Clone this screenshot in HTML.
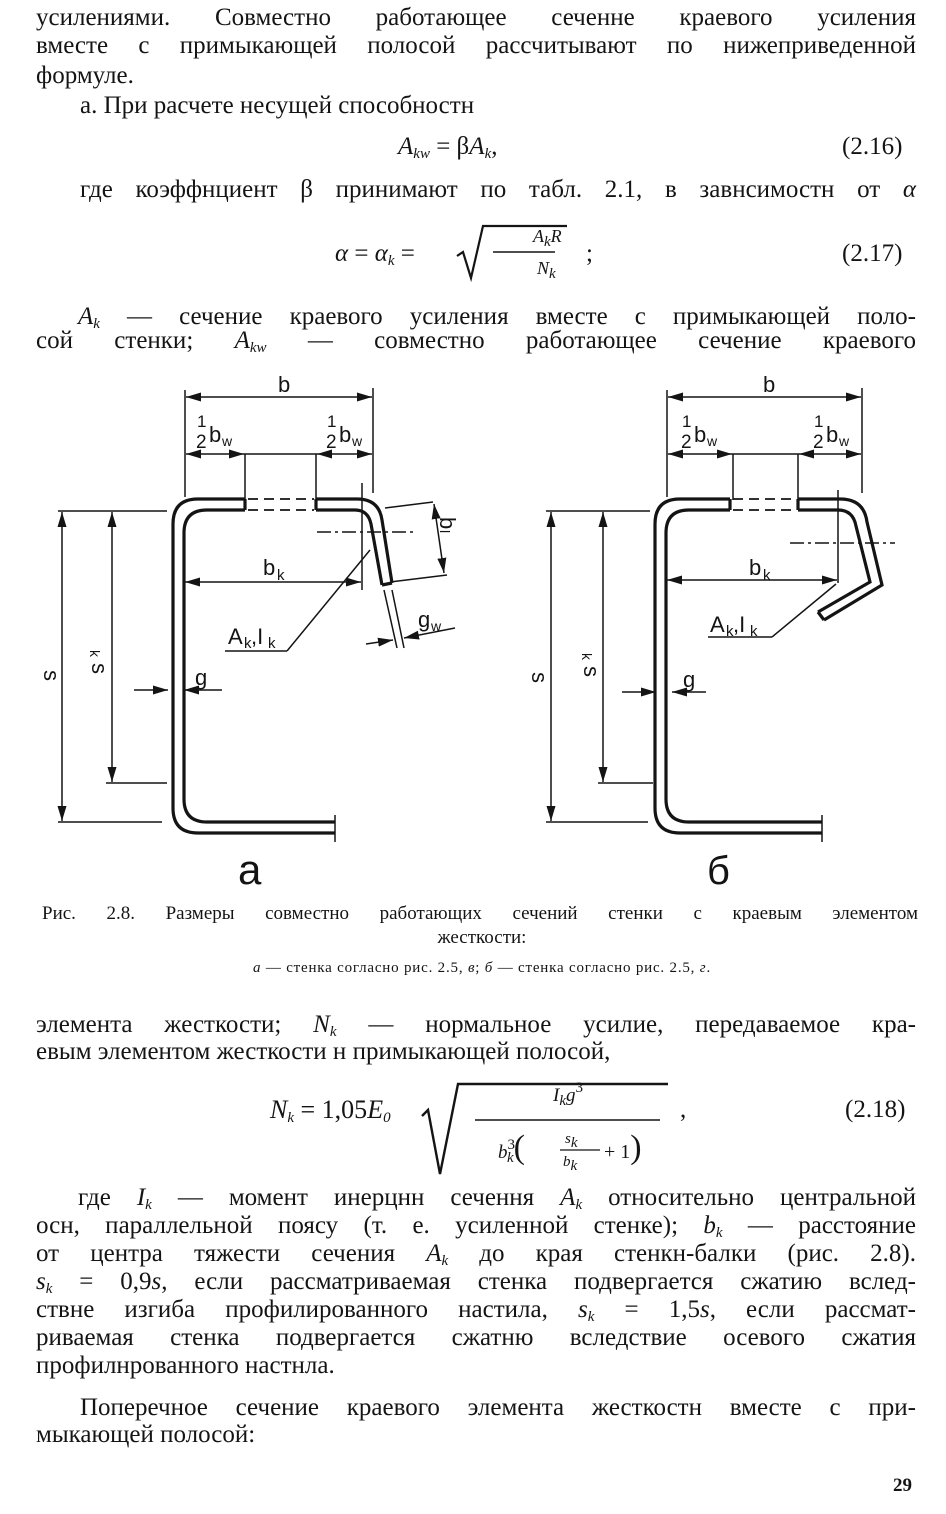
<!DOCTYPE html>
<html><head><meta charset="utf-8"><style>
body{margin:0;background:#fff;}
#p{position:relative;width:946px;height:1514px;overflow:hidden;font-family:"Liberation Serif","DejaVu Serif",serif;font-size:25px;color:#141414;}
.l{position:absolute;white-space:nowrap;line-height:28px;}
.j{text-align:justify;text-align-last:justify;white-space:normal;}
i{font-style:italic;}
sub{font-size:15px;vertical-align:-4px;line-height:0;font-style:italic;}
sup{font-size:15px;vertical-align:9px;line-height:0;}
</style></head><body><div id="p">

<div class="l j" style="top:4px;left:36px;width:880px;">усилениями. Совместно работающее сеченне краевого усиления</div>
<div class="l j" style="top:32px;left:36px;width:880px;">вместе с примыкающей полосой рассчитывают по нижеприведенной</div>
<div class="l" style="top:62px;left:36px;">формуле.</div>
<div class="l" style="top:92px;left:80px;">а. При расчете несущей способностн</div>
<div class="l" style="top:133px;left:398px;"><i>A</i><sub>kw</sub> = β<i>A</i><sub>k</sub>,</div>
<div class="l" style="top:133px;left:842px;">(2.16)</div>
<div class="l j" style="top:176px;left:80px;width:836px;">где коэффнциент β принимают по табл. 2.1, в завнсимостн от <i>α</i></div>
<div class="l" style="top:240px;left:335px;"><i>α</i> = <i>α</i><sub>k</sub> =</div>
<svg style="position:absolute;left:455px;top:222px" width="160" height="60"><path d="M2 34 L8 30 L16 56 L28 4 L112 4" fill="none" stroke="#141414" stroke-width="2.2"/><line x1="38" y1="30" x2="100" y2="30" stroke="#141414" stroke-width="1.5"/></svg>
<div class="l" style="top:222px;left:533px;font-size:18px;"><i>A<sub>k</sub>R</i></div>
<div class="l" style="top:254px;left:537px;font-size:18px;"><i>N<sub>k</sub></i></div>
<div class="l" style="top:240px;left:586px;">;</div>
<div class="l" style="top:240px;left:842px;">(2.17)</div>
<div class="l j" style="top:303px;left:78px;width:838px;"><i>A<sub>k</sub></i> — сечение краевого усиления вместе с примыкающей поло-</div>
<div class="l j" style="top:327px;left:36px;width:880px;">сой стенки; <i>A<sub>kw</sub></i> — совместно работающее сечение краевого</div>

<svg style="position:absolute;left:0;top:360px" width="946" height="530" viewBox="0 360 946 530" font-family="Liberation Sans, DejaVu Sans, sans-serif" fill="none" stroke="#141414">
<defs><marker id="a" markerWidth="10" markerHeight="6" refX="10" refY="3" orient="auto-start-reverse"><path d="M0 0L10 3L0 6z" fill="#141414" stroke="none"/></marker></defs>
<g stroke-width="1.5">
<line x1="185" y1="390" x2="185" y2="497"/><line x1="373" y1="388" x2="373" y2="493"/>
<line x1="186" y1="397" x2="372" y2="397" marker-start="url(#a)" marker-end="url(#a)"/>
<line x1="186" y1="454" x2="244" y2="454" marker-start="url(#a)" marker-end="url(#a)"/>
<line x1="244" y1="454" x2="317" y2="454"/>
<line x1="317" y1="454" x2="372" y2="454" marker-start="url(#a)" marker-end="url(#a)"/>
<line x1="245" y1="454" x2="245" y2="500"/><line x1="316" y1="454" x2="316" y2="500"/>
<line x1="62" y1="512" x2="62" y2="821" marker-start="url(#a)" marker-end="url(#a)"/>
<line x1="58" y1="511" x2="167" y2="511"/><line x1="58" y1="822" x2="162" y2="822"/>
<line x1="112" y1="512" x2="112" y2="782" marker-start="url(#a)" marker-end="url(#a)"/>
<line x1="106" y1="783" x2="167" y2="783"/>
<line x1="185" y1="582" x2="361" y2="582" marker-start="url(#a)" marker-end="url(#a)"/>
<line x1="362" y1="483" x2="362" y2="590"/>
<line x1="317" y1="532" x2="415" y2="532" stroke-dasharray="14 4 3 4"/>
<line x1="370" y1="550" x2="287" y2="651"/><line x1="287" y1="651" x2="225" y2="651"/>
<line x1="385" y1="508" x2="433" y2="502"/><line x1="390" y1="582" x2="447" y2="575"/>
<line x1="434" y1="504" x2="444" y2="573" marker-start="url(#a)" marker-end="url(#a)"/>
<line x1="384" y1="590" x2="397" y2="648"/><line x1="392" y1="590" x2="404" y2="648"/>
<line x1="366" y1="644" x2="393" y2="640" marker-end="url(#a)"/><line x1="455" y1="628" x2="404" y2="638" marker-end="url(#a)"/>
<line x1="134" y1="690" x2="168" y2="690" marker-end="url(#a)"/><line x1="222" y1="690" x2="184" y2="690" marker-end="url(#a)"/>
<line x1="335" y1="815" x2="335" y2="842"/>
<line x1="667" y1="390" x2="667" y2="497"/><line x1="862" y1="388" x2="862" y2="493"/>
<line x1="668" y1="397" x2="861" y2="397" marker-start="url(#a)" marker-end="url(#a)"/>
<line x1="668" y1="454" x2="732" y2="454" marker-start="url(#a)" marker-end="url(#a)"/>
<line x1="732" y1="454" x2="799" y2="454"/>
<line x1="799" y1="454" x2="861" y2="454" marker-start="url(#a)" marker-end="url(#a)"/>
<line x1="733" y1="454" x2="733" y2="500"/><line x1="798" y1="454" x2="798" y2="500"/>
<line x1="551" y1="512" x2="551" y2="821" marker-start="url(#a)" marker-end="url(#a)"/>
<line x1="546" y1="511" x2="650" y2="511"/><line x1="546" y1="822" x2="648" y2="822"/>
<line x1="603" y1="512" x2="603" y2="782" marker-start="url(#a)" marker-end="url(#a)"/>
<line x1="598" y1="783" x2="653" y2="783"/>
<line x1="667" y1="580" x2="837" y2="580" marker-start="url(#a)" marker-end="url(#a)"/>
<line x1="838" y1="490" x2="838" y2="583"/>
<line x1="790" y1="543" x2="895" y2="543" stroke-dasharray="14 4 3 4"/>
<line x1="836" y1="584" x2="772" y2="637"/><line x1="772" y1="637" x2="708" y2="637"/>
<line x1="622" y1="692" x2="656" y2="692" marker-end="url(#a)"/><line x1="706" y1="692" x2="672" y2="692" marker-end="url(#a)"/>
<line x1="822" y1="815" x2="822" y2="842"/>
</g>
<g stroke-width="3.2">
<path d="M245 499 L198 499 Q173 499 173 524 L173 808 Q173 833 198 833 L335 833"/>
<path d="M245 510 L207 510 Q184 510 184 533 L184 799 Q184 822 207 822 L335 822"/>
<path d="M316 499 L357 499 Q379 499 382 520 L392 583"/>
<path d="M316 510 L355 510 Q368 510 371 524 L382 585"/>
<line x1="245" y1="499" x2="245" y2="510"/><line x1="316" y1="499" x2="316" y2="510"/><line x1="382" y1="585" x2="392" y2="583"/>
<path d="M730 499 L680 499 Q655 499 655 524 L655 808 Q655 833 680 833 L822 833"/>
<path d="M730 510 L689 510 Q666 510 666 533 L666 799 Q666 822 689 822 L822 822"/>
<path d="M798 499 L840 499 Q864 499 867 522 L882 585 L824 620"/>
<path d="M798 510 L838 510 Q853 510 856 526 L870 582 L818 612"/>
<line x1="730" y1="499" x2="730" y2="510"/><line x1="798" y1="499" x2="798" y2="510"/><line x1="818" y1="612" x2="824" y2="620"/>
</g>
<g stroke-width="1.8" stroke-dasharray="10 6"><line x1="248" y1="499" x2="314" y2="499"/><line x1="248" y1="510" x2="314" y2="510"/><line x1="733" y1="499" x2="796" y2="499"/><line x1="733" y1="510" x2="796" y2="510"/></g>
<g fill="#141414" stroke="none" font-size="22">
<text x="278" y="392">b</text><text x="763" y="392">b</text>
<text x="197" y="427" font-size="17">1</text><text x="196" y="448" font-size="19">2</text><text x="209" y="442">b</text><text x="222" y="446" font-size="14">w</text>
<text x="327" y="427" font-size="17">1</text><text x="326" y="448" font-size="19">2</text><text x="339" y="442">b</text><text x="352" y="446" font-size="14">w</text>
<text x="682" y="427" font-size="17">1</text><text x="681" y="448" font-size="19">2</text><text x="694" y="442">b</text><text x="707" y="446" font-size="14">w</text>
<text x="814" y="427" font-size="17">1</text><text x="813" y="448" font-size="19">2</text><text x="826" y="442">b</text><text x="839" y="446" font-size="14">w</text>
<text x="263" y="575">b</text><text x="277" y="580" font-size="15">k</text>
<text x="749" y="575">b</text><text x="763" y="580" font-size="15">k</text>
<text x="228" y="644">A</text><text x="244" y="648" font-size="15">k</text><text x="251" y="644">,I</text><text x="268" y="648" font-size="15">k</text>
<text x="710" y="632">A</text><text x="726" y="636" font-size="15">k</text><text x="733" y="632">,I</text><text x="750" y="636" font-size="15">k</text>
<text x="195" y="685">g</text><text x="683" y="687">g</text>
<text x="418" y="627">g</text><text x="431" y="631" font-size="14">w</text>
<text transform="translate(44,670) rotate(90)">s</text>
<text transform="translate(92,663) rotate(90)">s</text><text transform="translate(90,650) rotate(90)" font-size="14">k</text>
<text transform="translate(532,672) rotate(90)">s</text>
<text transform="translate(584,666) rotate(90)">s</text><text transform="translate(582,653) rotate(90)" font-size="14">k</text>
<text transform="translate(440,517) rotate(90)">b</text><text transform="translate(440,530) rotate(90)" font-size="14">l</text>
<text x="238" y="884" font-size="42">a</text><text x="707" y="884" font-size="40">б</text>
</g>
</svg>

<div class="l j" style="top:900px;left:42px;font-size:19px;width:876px;">Рис. 2.8. Размеры совместно работающих сечений стенки с краевым элементом</div>
<div class="l" style="top:924px;left:42px;font-size:19px;width:880px;text-align:center;">жесткости:</div>
<div class="l" style="top:954px;left:42px;font-size:15px;width:880px;text-align:center;letter-spacing:0.8px;"><i>а</i> — стенка согласно рис. 2.5, <i>в</i>; <i>б</i> — стенка согласно рис. 2.5, <i>г</i>.</div>

<div class="l j" style="top:1011px;left:36px;width:880px;">элемента жесткости; <i>N<sub>k</sub></i> — нормальное усилие, передаваемое кра-</div>
<div class="l" style="top:1038px;left:36px;">евым элементом жесткости н примыкающей полосой,</div>
<div class="l" style="top:1096px;left:270px;font-size:26px;"><i>N<sub>k</sub></i> = 1,05<i>E</i><sub>0</sub></div>
<svg style="position:absolute;left:420px;top:1080px" width="260" height="100"><path d="M2 36 L8 30 L20 94 L38 4 L248 4" fill="none" stroke="#141414" stroke-width="2.4"/><line x1="55" y1="40" x2="240" y2="40" stroke="#141414" stroke-width="1.6"/><line x1="140" y1="70" x2="180" y2="70" stroke="#141414" stroke-width="1.2"/></svg>
<div class="l" style="top:1082px;left:553px;font-size:19px;"><i>I<sub>k</sub>g</i><sup>3</sup></div>
<div class="l" style="top:1134px;left:498px;font-size:19px;"><i>b</i><sup>3</sup><sub style="margin-left:-8px">k</sub><span style="font-size:34px;">(</span></div>
<div class="l" style="top:1125px;left:565px;font-size:15px;"><i>s<sub>k</sub></i></div>
<div class="l" style="top:1148px;left:563px;font-size:15px;"><i>b<sub>k</sub></i></div>
<div class="l" style="top:1134px;left:604px;font-size:20px;">+ 1<span style="font-size:34px;">)</span></div>
<div class="l" style="top:1096px;left:680px;">,</div>
<div class="l" style="top:1096px;left:845px;">(2.18)</div>

<div class="l j" style="top:1184px;left:78px;width:838px;">где <i>I<sub>k</sub></i> — момент инерцнн сечення <i>A<sub>k</sub></i> относительно центральной</div>
<div class="l j" style="top:1212px;left:36px;width:880px;">осн, параллельной поясу (т. е. усиленной стенке); <i>b<sub>k</sub></i> — расстояние</div>
<div class="l j" style="top:1240px;left:36px;width:880px;">от центра тяжести сечения <i>A<sub>k</sub></i> до края стенкн-балки (рис. 2.8).</div>
<div class="l j" style="top:1268px;left:36px;width:880px;"><i>s<sub>k</sub></i> = 0,9<i>s</i>, если рассматриваемая стенка подвергается сжатию вслед-</div>
<div class="l j" style="top:1296px;left:36px;width:880px;">ствне изгиба профилированного настила, <i>s<sub>k</sub></i> = 1,5<i>s</i>, если рассмат-</div>
<div class="l j" style="top:1324px;left:36px;width:880px;">риваемая стенка подвергается сжатню вследствие осевого сжатия</div>
<div class="l" style="top:1352px;left:36px;">профилнрованного настнла.</div>
<div class="l j" style="top:1394px;left:80px;width:836px;">Поперечное сечение краевого элемента жесткостн вместе с при-</div>
<div class="l" style="top:1421px;left:36px;">мыкающей полосой:</div>
<div class="l" style="top:1472px;left:893px;font-size:19px;font-weight:bold;">29</div>
</div></body></html>
